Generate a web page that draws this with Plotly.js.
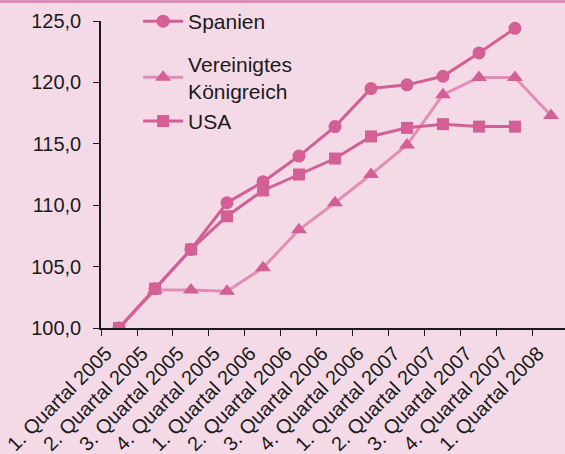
<!DOCTYPE html>
<html>
<head>
<meta charset="utf-8">
<script src="https://cdn.plot.ly/plotly-3.0.1.min.js"></script>
<style>
html,body{margin:0;padding:0;background:#f4dae7;}
#chart{width:565px;height:454px;}
#strip{position:absolute;left:0;top:0;width:565px;height:3px;background:#e08db5;z-index:10;}
</style>
</head>
<body>
<div id="strip"></div>
<div id="chart"></div>
<script>
const categories = ["1. Quartal 2005","2. Quartal 2005","3. Quartal 2005","4. Quartal 2005",
  "1. Quartal 2006","2. Quartal 2006","3. Quartal 2006","4. Quartal 2006",
  "1. Quartal 2007","2. Quartal 2007","3. Quartal 2007","4. Quartal 2007","1. Quartal 2008"];
const spanien = [100.0,103.2,106.4,110.2,111.9,114.0,116.4,119.5,119.8,120.5,122.4,124.4,null];
const vk = [100.0,103.1,103.1,103.0,104.9,108.0,110.2,112.5,114.9,119.0,120.4,120.4,117.3];
const usa = [100.0,103.2,106.4,109.1,111.2,112.5,113.8,115.6,116.3,116.6,116.4,116.4,null];
const yTicks = [100,105,110,115,120,125];

const mark = '#d35f95';
const traces = [
  {x: categories, y: spanien, name: 'Spanien', legendgroup: 'a', type: 'scatter', mode: 'lines+markers',
   line: {color: mark, width: 3}, marker: {symbol: 'circle', size: 13, color: mark}},
  {x: categories, y: vk, name: 'Vereinigtes<br>Königreich', legendgroup: 'b', type: 'scatter', mode: 'lines+markers',
   line: {color: '#e28db6', width: 3}, marker: {symbol: 'triangle-up', size: 14, color: mark}},
  {x: categories, y: usa, name: 'USA', legendgroup: 'b', type: 'scatter', mode: 'lines+markers',
   line: {color: mark, width: 3}, marker: {symbol: 'square', size: 12, color: mark}}
];
const layout = {
  width: 565, height: 454,
  margin: {l: 101, r: 0, t: 21, b: 126},
  paper_bgcolor: '#f4dae7', plot_bgcolor: '#f4dae7',
  separators: ',.',
  font: {family: 'Liberation Sans, Arial, sans-serif', size: 20, color: '#1a1a1a'},
  showlegend: true,
  legend: {x: 0.08, y: 1.065, xanchor: 'left', yanchor: 'top', bgcolor: 'rgba(0,0,0,0)',
    itemwidth: 40, font: {size: 21}, traceorder: 'grouped', tracegroupgap: 12},
  xaxis: {type: 'category', range: [-0.5, 12.39], showline: true, linecolor: '#1a1a1a', linewidth: 1.5,
    ticks: 'outside', tickson: 'boundaries', ticklen: 6, tickcolor: '#1a1a1a', tickangle: -45,
    showgrid: false, zeroline: false, tickfont: {size: 20}, ticklabelshift: -13, ticklabelstandoff: 4},
  yaxis: {range: [100, 125], tickvals: yTicks, tickformat: '.1f', showline: true, linecolor: '#1a1a1a',
    linewidth: 1.5, ticks: 'outside', ticklen: 6, tickcolor: '#1a1a1a', showgrid: false, zeroline: false,
    ticklabelstandoff: 8, tickfont: {size: 20}}
};
Plotly.newPlot('chart', traces, layout, {displayModeBar: false});
</script>
</body>
</html>
